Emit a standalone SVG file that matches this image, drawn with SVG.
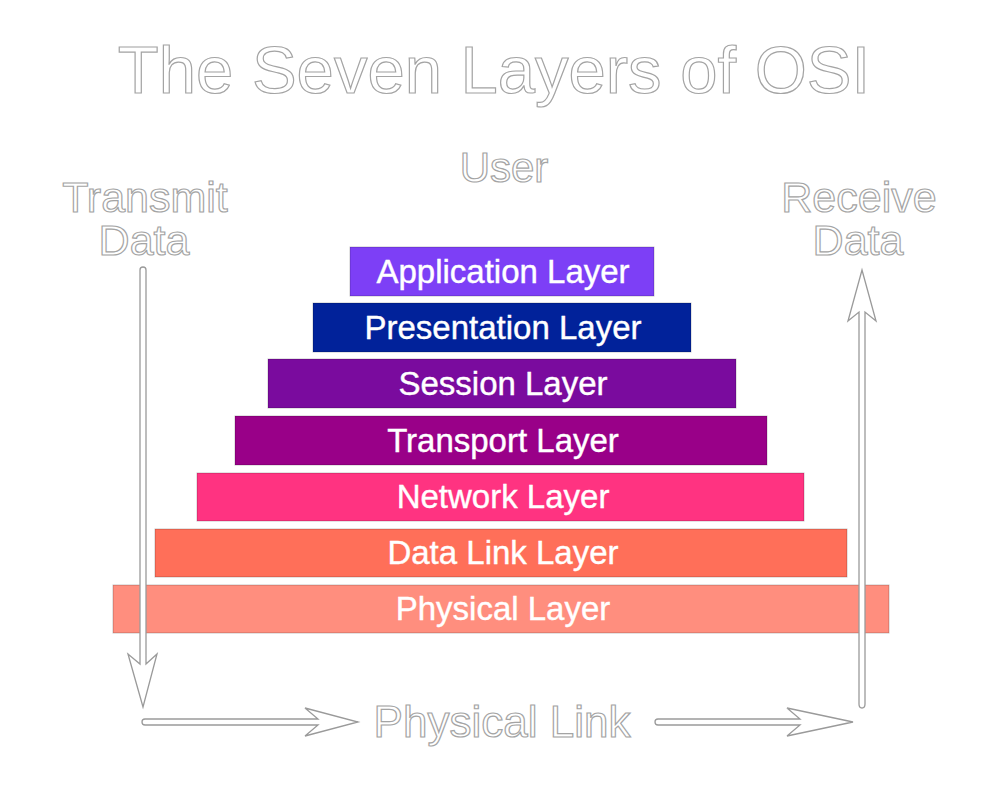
<svg xmlns="http://www.w3.org/2000/svg" width="1008" height="788" viewBox="0 0 1008 788">
<style>
.outline{font-family:"Liberation Sans",Arial,sans-serif;fill:#ffffff;stroke:#a4a4a4;stroke-width:1.2;text-anchor:middle}
.layer rect{stroke:rgba(0,0,0,0.22);stroke-width:1}
.layer text{font-family:"Liberation Sans",Arial,sans-serif;font-size:33px;fill:#ffffff;stroke:#ffffff;stroke-width:0.4;text-anchor:middle}
.arrow{fill:#ffffff;stroke:#9a9a9a;stroke-width:1.3;stroke-linejoin:miter}
</style>
<rect width="1008" height="788" fill="#ffffff"/>
<g id="title"><text class="outline" x="494" y="93" font-size="67">The Seven Layers of OSI</text></g>
<g id="user"><text class="outline" x="504" y="182" font-size="42">User</text></g>
<g id="transmit"><text class="outline" x="145" y="212" font-size="43">Transmit</text><text class="outline" x="144" y="255" font-size="43">Data</text></g>
<g id="receive"><text class="outline" x="859" y="212" font-size="43">Receive</text><text class="outline" x="858" y="255" font-size="43">Data</text></g>
<g id="application" class="layer"><rect x="350" y="247" width="304" height="49" fill="#7d3ff6"/><text x="503" y="283">Application Layer</text></g>
<g id="presentation" class="layer"><rect x="313" y="303" width="378" height="49" fill="#01229a"/><text x="503" y="339">Presentation Layer</text></g>
<g id="session" class="layer"><rect x="268" y="359" width="468" height="49" fill="#7a0b9e"/><text x="503" y="395">Session Layer</text></g>
<g id="transport" class="layer"><rect x="235" y="416" width="532" height="49" fill="#990088"/><text x="503" y="452">Transport Layer</text></g>
<g id="network" class="layer"><rect x="197" y="473" width="607" height="48" fill="#ff3381"/><text x="503" y="508">Network Layer</text></g>
<g id="datalink" class="layer"><rect x="155" y="529" width="692" height="48" fill="#ff6f59"/><text x="503" y="564">Data Link Layer</text></g>
<g id="physical" class="layer"><rect x="113" y="585" width="776" height="48" fill="#ff8e7e"/><text x="503" y="620">Physical Layer</text></g>
<g id="connectors">
<path class="arrow" d="M140,270 Q140,267 143,267 Q146,267 146,270 L146,664 L157,654 L143,707 L128,654 L140,664 Z"/>
<path class="arrow" d="M859,704 L859,312 L848,321 L862,270 L876,321 L865,312 L865,704 Q865,708 862,708 Q859,708 859,704 Z"/>
<path class="arrow" d="M145,719 L318,719 L305,708 L358,722 L305,736 L318,725 L145,725 Q142,725 142,722 Q142,719 145,719 Z"/>
<path class="arrow" d="M658,719 L800,719 L787,708 L853,722 L787,736 L800,725 L658,725 Q655,725 655,722 Q655,719 658,719 Z"/>
</g>
<g id="physical-link"><text class="outline" x="502" y="737" font-size="44">Physical Link</text></g>
</svg>
